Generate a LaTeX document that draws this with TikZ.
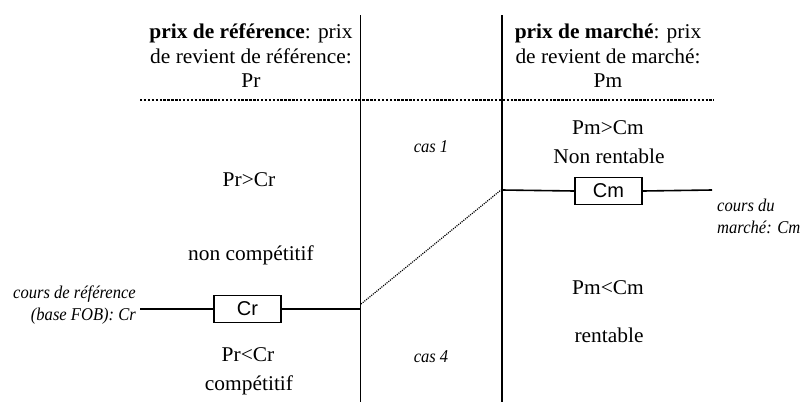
\documentclass[tikz,border=0pt]{standalone}
\usepackage{fontspec}
\setmainfont{Liberation Serif}[FakeStretch=1.02]
\newfontfamily\itf{Liberation Serif}[FakeStretch=0.92]
\newfontfamily\sff{Liberation Sans}
\begin{document}
\begin{tikzpicture}[x=1pt,y=-1pt,
  txt/.style={font=\fontsize{21}{24.5}\selectfont, inner sep=0pt, align=center},
  itl/.style={font=\itf\itshape\fontsize{18}{22}\selectfont, inner sep=0pt},
  valbox/.style={draw, line width=1.4pt, minimum width=67pt, minimum height=27.5pt, inner sep=0pt, font=\sff\fontsize{20}{20}\selectfont},
  axis/.style={line width=1.6pt},
  hdots/.style={line width=2.6pt, dash pattern=on 2.4pt off 1.5pt},
  thindots/.style={line width=1.2pt, dash pattern=on 1.1pt off 1.1pt}]
\useasboundingbox (0,0) rectangle (808,402);
% vertical axes
\coordinate (L1) at (360.5,15); \coordinate (L2) at (360.5,402);
\coordinate (R1) at (502,15); \coordinate (R2) at (502,402);
\draw[axis] (L1) -- (L2);
\draw[axis] (R1) -- (R2);
% dotted separator
\coordinate (D1) at (140,100); \coordinate (D2) at (714,100);
\draw[hdots] (D1) -- (D2);
% headers
\node[txt] (hL) at (251,56) {\textbf{prix de référence}: prix\\de revient de référence:\\Pr};
\node[txt] (hR) at (608,56) {\textbf{prix de marché}: prix\\de revient de marché:\\Pm};
% Cr line
\node[valbox] (Cr) at (247.5,309) {Cr};
\coordinate (CrL) at (140,309); \coordinate (CrR) at (360.5,309);
\draw[axis] (CrL) -- (Cr.west);
\draw[axis] (Cr.east) -- (CrR);
% Cm line
\node[valbox] (Cm) at (608.5,191) {Cm};
\coordinate (CmL) at (502,190); \coordinate (CmR) at (712,190);
\draw[axis] (CmL) -- (Cm.west);
\draw[axis] (Cm.east) -- (CmR);
% diagonal
\coordinate (dA) at (361,304); \coordinate (dB) at (501,190);
\draw[thindots] (dA) -- (dB);
% labels
\node[itl, align=right, anchor=east] (lCr) at (136,305) {cours de référence\\(base FOB): Cr};
\node[itl, align=left, anchor=west] (lCm) at (717,216) {cours du\\marché: Cm};
\node[itl] (c1) at (431,147) {cas 1};
\node[itl] (c4) at (431,357) {cas 4};
\node[txt] (t1) at (249,180) {Pr>Cr};
\node[txt] (t2) at (251,255) {non compétitif};
\node[txt] (t3) at (248,355) {Pr<Cr};
\node[txt] (t4) at (249,385) {compétitif};
\node[txt] (t5) at (608,128) {Pm>Cm};
\node[txt] (t6) at (609,156) {Non rentable};
\node[txt] (t7) at (608,288) {Pm<Cm};
\node[txt] (t8) at (609,335) {rentable};
\end{tikzpicture}
\end{document}
